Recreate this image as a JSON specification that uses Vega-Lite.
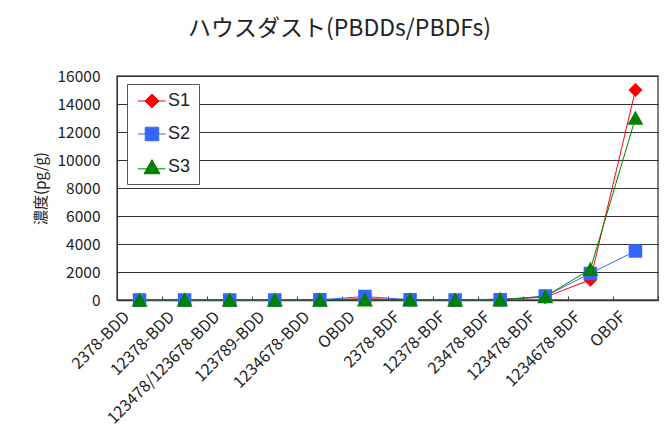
{
  "$schema": "https://vega.github.io/schema/vega-lite/v6.json",
  "width": 541,
  "height": 224,
  "autosize": {"type": "none"},
  "padding": {"left": 117, "top": 76, "right": 7, "bottom": 127},
  "background": "white",
  "title": {
    "text": "ハウスダスト(PBDDs/PBDFs)",
    "font": "Noto Sans CJK JP",
    "fontSize": 23,
    "fontWeight": "normal",
    "color": "#222",
    "anchor": "middle",
    "dx": -48,
    "offset": 28
  },
  "data": {
    "values": [
      {"c": "2378-BDD", "s": "S1", "v": 5}, {"c": "12378-BDD", "s": "S1", "v": 5}, {"c": "123478/123678-BDD", "s": "S1", "v": 5}, {"c": "123789-BDD", "s": "S1", "v": 5}, {"c": "1234678-BDD", "s": "S1", "v": 10}, {"c": "OBDD", "s": "S1", "v": 100}, {"c": "2378-BDF", "s": "S1", "v": 30}, {"c": "12378-BDF", "s": "S1", "v": 5}, {"c": "23478-BDF", "s": "S1", "v": 60}, {"c": "123478-BDF", "s": "S1", "v": 200}, {"c": "1234678-BDF", "s": "S1", "v": 1450}, {"c": "OBDF", "s": "S1", "v": 15000},
      {"c": "2378-BDD", "s": "S2", "v": 5}, {"c": "12378-BDD", "s": "S2", "v": 5}, {"c": "123478/123678-BDD", "s": "S2", "v": 5}, {"c": "123789-BDD", "s": "S2", "v": 5}, {"c": "1234678-BDD", "s": "S2", "v": 10}, {"c": "OBDD", "s": "S2", "v": 250}, {"c": "2378-BDF", "s": "S2", "v": 20}, {"c": "12378-BDF", "s": "S2", "v": 5}, {"c": "23478-BDF", "s": "S2", "v": 10}, {"c": "123478-BDF", "s": "S2", "v": 280}, {"c": "1234678-BDF", "s": "S2", "v": 1900}, {"c": "OBDF", "s": "S2", "v": 3500},
      {"c": "2378-BDD", "s": "S3", "v": 5}, {"c": "12378-BDD", "s": "S3", "v": 5}, {"c": "123478/123678-BDD", "s": "S3", "v": 5}, {"c": "123789-BDD", "s": "S3", "v": 5}, {"c": "1234678-BDD", "s": "S3", "v": 5}, {"c": "OBDD", "s": "S3", "v": 20}, {"c": "2378-BDF", "s": "S3", "v": 10}, {"c": "12378-BDF", "s": "S3", "v": 5}, {"c": "23478-BDF", "s": "S3", "v": 10}, {"c": "123478-BDF", "s": "S3", "v": 250}, {"c": "1234678-BDF", "s": "S3", "v": 2200}, {"c": "OBDF", "s": "S3", "v": 13000}
    ]
  },
  "encoding": {
    "x": {
      "field": "c",
      "type": "nominal",
      "sort": null,
      "scale": {"type": "band", "paddingInner": 0, "paddingOuter": 0},
      "axis": {
        "title": null,
        "labelAngle": -45,
        "labelAlign": "right",
        "labelBaseline": "middle",
        "labelFont": "Noto Sans CJK JP",
        "labelFontSize": 16,
        "labelColor": "#222",
        "labelPadding": 18,
        "labelOffset": -13,
        "tickBand": "extent",
        "tickSize": -4,
        "tickColor": "#444",
        "domainColor": "#333",
        "domainWidth": 1.5,
        "grid": false
      }
    },
    "y": {
      "field": "v",
      "type": "quantitative",
      "scale": {"domain": [0, 16000]},
      "axis": {
        "title": "濃度(pg/g)",
        "titleFont": "Noto Sans CJK JP",
        "titleFontSize": 15,
        "titleFontWeight": "normal",
        "titleColor": "#222",
        "titlePadding": 8,
        "values": [0, 2000, 4000, 6000, 8000, 10000, 12000, 14000, 16000],
        "format": "d",
        "labelFont": "Noto Sans CJK JP",
        "labelFontSize": 15.5,
        "labelColor": "#222",
        "labelPadding": 17,
        "ticks": false,
        "domainColor": "#333",
        "grid": true,
        "gridColor": "#333",
        "gridWidth": 1
      }
    },
    "color": {
      "field": "s",
      "type": "nominal",
      "scale": {"domain": ["S1", "S2", "S3"], "range": ["#ff0000", "#3366ff", "#008000"]},
      "legend": {
        "title": null,
        "orient": "none",
        "legendX": 10,
        "legendY": 8,
        "labelFont": "Liberation Sans",
        "labelFontSize": 18,
        "labelColor": "#222",
        "strokeColor": "#555",
        "fillColor": "white",
        "padding": 8,
        "rowPadding": 14,
        "symbolSize": 150,
        "symbolStrokeWidth": 1,
        "symbolOffset": 8,
        "labelOffset": 7,
        "encode": {
          "symbols": {"update": {"stroke": {"scale": "color", "field": "value"}, "strokeWidth": {"value": 1}}}
        }
      }
    }
  },
  "layer": [
    {"mark": {"type": "line", "strokeWidth": 1}},
    {
      "mark": {"type": "point", "filled": true, "size": 150, "opacity": 1, "strokeWidth": 0},
      "encoding": {
        "shape": {
          "field": "s",
          "type": "nominal",
          "scale": {
            "domain": ["S1", "S2", "S3"],
            "range": [
              "M-2.3,0H2.2M0,-1.15L1.15,0L0,1.15L-1.15,0Z",
              "M-2.3,0H2.2M-1.1,-1.1H1.1V1.1H-1.1Z",
              "M-2.3,0.3H2.2M0,-1.2L1.3,1.1H-1.3Z"
            ]
          }
        }
      }
    }
  ],
  "config": {
    "view": {"stroke": "#555", "strokeWidth": 1.5}
  }
}
